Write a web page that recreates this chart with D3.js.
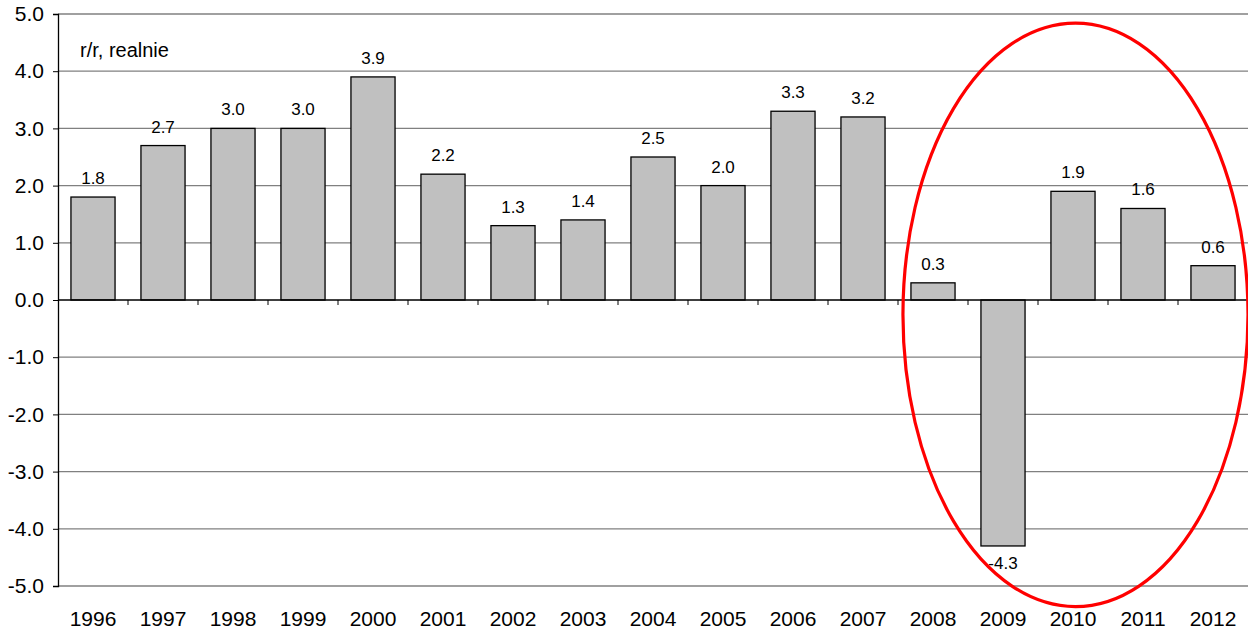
<!DOCTYPE html>
<html>
<head>
<meta charset="utf-8">
<script src="https://cdn.jsdelivr.net/npm/d3@7"></script>
<style>
  html, body { margin: 0; padding: 0; background: #fff; }
  svg { display: block; font-family: "Liberation Sans", Arial, sans-serif; }
</style>
</head>
<body>
<svg id="chart" width="1248" height="630"></svg>
<script>
// Real year-on-year change (%)
const years = ["1996","1997","1998","1999","2000","2001","2002","2003","2004","2005","2006","2007","2008","2009","2010","2011","2012"];
const values = [1.8, 2.7, 3.0, 3.0, 3.9, 2.2, 1.3, 1.4, 2.5, 2.0, 3.3, 3.2, 0.3, -4.3, 1.9, 1.6, 0.6];
const yTicks = [5, 4, 3, 2, 1, 0, -1, -2, -3, -4, -5];
const unitLabel = "r/r, realnie";
const highlightYears = ["2008", "2012"];

const svg = d3.select("#chart");
const plot = { left: 58, right: 1248, top: 14, bottom: 586 };
const fmt = v => d3.format(".1f")(v).replace("\u2212", "-");

const x = d3.scaleBand().domain(years).range([plot.left, plot.right]).paddingInner(0.37).paddingOuter(0.185);
const y = d3.scaleLinear().domain([-5, 5]).range([plot.bottom, plot.top]);

// horizontal grid
svg.append("g").selectAll("line").data(yTicks.filter(d => d !== 0)).join("line")
  .attr("x1", plot.left).attr("x2", plot.right)
  .attr("y1", d => y(d)).attr("y2", d => y(d))
  .attr("stroke", "#808080").attr("stroke-width", 1.3);

// y axis
const yAxis = d3.axisLeft(y).tickValues(yTicks).tickSize(5).tickPadding(9).tickFormat(fmt);
const gy = svg.append("g").attr("transform", `translate(${plot.left},0)`).call(yAxis);
gy.select(".domain").attr("stroke", "#000").attr("stroke-width", 1.3);
gy.selectAll(".tick line").attr("stroke", "#000");
gy.selectAll(".tick text").attr("font-size", 21).attr("fill", "#000")
  .attr("font-family", "Liberation Sans, Arial, sans-serif");

// bars
svg.append("g").selectAll("rect").data(years).join("rect")
  .attr("x", (d) => x(d))
  .attr("width", x.bandwidth())
  .attr("y", (d, i) => y(Math.max(0, values[i])))
  .attr("height", (d, i) => Math.abs(y(values[i]) - y(0)))
  .attr("fill", "#c0c0c0").attr("stroke", "#000").attr("stroke-width", 1.3);

// x axis along zero, ticks between categories
const bounds = years.map(d => x(d) - x.step() * x.paddingInner() / 2).concat([plot.right]);
const gx = svg.append("g");
gx.append("line").attr("x1", plot.left).attr("x2", plot.right).attr("y1", y(0)).attr("y2", y(0))
  .attr("stroke", "#000").attr("stroke-width", 1.3);
gx.selectAll("line.tk").data(bounds.slice(1)).join("line").attr("class", "tk")
  .attr("x1", d => d).attr("x2", d => d).attr("y1", y(0)).attr("y2", y(0) + 5)
  .attr("stroke", "#000").attr("stroke-width", 1);

// category labels
svg.append("g").selectAll("text").data(years).join("text")
  .attr("x", d => x(d) + x.bandwidth() / 2)
  .attr("y", 626)
  .attr("text-anchor", "middle").attr("font-size", 21).attr("fill", "#000")
  .text(d => d);

// value labels
svg.append("g").selectAll("text").data(years).join("text")
  .attr("x", d => x(d) + x.bandwidth() / 2)
  .attr("y", (d, i) => values[i] >= 0 ? y(values[i]) - 13 : y(values[i]) + 23)
  .attr("text-anchor", "middle").attr("font-size", 17).attr("fill", "#000")
  .text((d, i) => fmt(values[i]));

// unit label
svg.append("text").attr("x", 80).attr("y", 57).attr("font-size", 20).attr("fill", "#000").text(unitLabel);

// highlight ellipse around the last years
const x0 = x(highlightYears[0]) - 10, x1 = plot.right;
svg.append("ellipse")
  .attr("cx", (x0 + x1) / 2 + 1)
  .attr("cy", y(-0.26))
  .attr("rx", (x1 - x0) / 2 - 1)
  .attr("ry", (y(-5.55) - y(4.65)) / 2)
  .attr("fill", "none").attr("stroke", "#ff0000").attr("stroke-width", 3.2);
</script>
</body>
</html>
